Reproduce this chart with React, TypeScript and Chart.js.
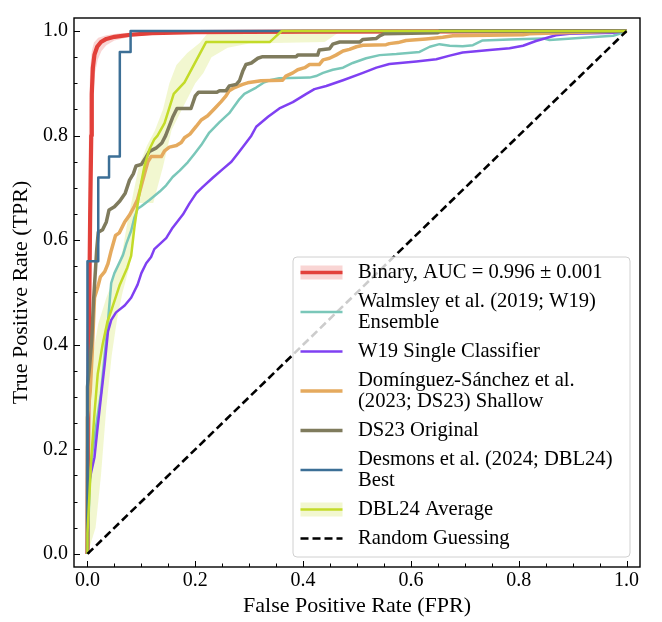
import React, { useEffect, useRef } from 'react';
import { Chart, registerables } from 'chart.js';

Chart.register(...registerables);

type Pt = [number, number];

// ---------- DATA (FPR, TPR) ----------
const binaryRoc: Pt[] = [
  [0, 0], [0.001, 0.2], [0.003, 0.45], [0.005, 0.65], [0.007, 0.8], [0.008, 0.88], [0.01, 0.93],
  [0.013, 0.955], [0.018, 0.97], [0.025, 0.979], [0.035, 0.985], [0.05, 0.989], [0.08, 0.993],
  [0.12, 0.996], [0.2, 0.998], [0.4, 0.999], [1, 1],
];
const binaryBandUpper: Pt[] = [
  [0, 0], [0, 0.3], [0.001, 0.6], [0.003, 0.85], [0.005, 0.93], [0.008, 0.962], [0.012, 0.978],
  [0.02, 0.987], [0.035, 0.992], [0.06, 0.996], [0.1, 0.998], [0.2, 1], [1, 1],
];
const binaryBandLower: Pt[] = [
  [0, 0], [0.002, 0.2], [0.005, 0.45], [0.007, 0.65], [0.009, 0.8], [0.011, 0.88], [0.014, 0.92],
  [0.019, 0.945], [0.026, 0.962], [0.035, 0.973], [0.05, 0.982], [0.08, 0.989], [0.12, 0.993],
  [0.2, 0.996], [0.4, 0.998], [1, 1],
];

const w19EnsembleRoc: Pt[] = [
  [0, 0], [0.004, 0.132], [0.009, 0.194], [0.016, 0.244], [0.025, 0.307], [0.032, 0.381],
  [0.038, 0.444], [0.044, 0.518], [0.05, 0.537], [0.056, 0.55], [0.066, 0.572], [0.072, 0.593],
  [0.081, 0.618], [0.087, 0.643], [0.093, 0.66], [0.1, 0.665], [0.115, 0.677], [0.134, 0.693],
  [0.146, 0.705], [0.158, 0.721], [0.171, 0.733], [0.186, 0.749], [0.199, 0.766], [0.211, 0.782],
  [0.226, 0.806], [0.245, 0.826], [0.263, 0.843], [0.282, 0.87], [0.291, 0.88], [0.313, 0.892],
  [0.328, 0.902], [0.338, 0.906], [0.356, 0.91], [0.412, 0.911], [0.424, 0.914], [0.437, 0.92],
  [0.455, 0.926], [0.474, 0.93], [0.492, 0.939], [0.517, 0.948], [0.542, 0.954], [0.573, 0.956],
  [0.616, 0.96], [0.635, 0.97], [0.653, 0.975], [0.672, 0.972], [0.696, 0.971], [0.715, 0.973],
  [0.733, 0.982], [0.783, 0.984], [0.845, 0.986], [0.857, 0.983], [0.919, 0.987], [0.975, 0.991],
  [0.987, 0.995], [1, 1],
];

const w19SingleRoc: Pt[] = [
  [0, 0], [0.002, 0.132], [0.007, 0.157], [0.013, 0.185], [0.019, 0.244], [0.025, 0.3],
  [0.032, 0.363], [0.038, 0.425], [0.044, 0.447], [0.053, 0.462], [0.069, 0.475], [0.081, 0.49],
  [0.093, 0.515], [0.1, 0.537], [0.109, 0.556], [0.118, 0.568], [0.124, 0.583], [0.146, 0.604],
  [0.158, 0.624], [0.177, 0.649], [0.189, 0.67], [0.202, 0.69], [0.214, 0.702], [0.233, 0.72],
  [0.251, 0.736], [0.267, 0.75], [0.279, 0.766], [0.291, 0.782], [0.304, 0.8], [0.313, 0.817],
  [0.335, 0.836], [0.356, 0.852], [0.381, 0.864], [0.406, 0.88], [0.421, 0.889], [0.443, 0.895],
  [0.474, 0.906], [0.511, 0.92], [0.536, 0.93], [0.56, 0.937], [0.61, 0.942], [0.647, 0.946],
  [0.672, 0.953], [0.696, 0.959], [0.746, 0.964], [0.783, 0.967], [0.808, 0.972], [0.832, 0.981],
  [0.869, 0.992], [0.894, 0.995], [0.975, 0.997], [1, 1],
];

const ds23ShallowRoc: Pt[] = [
  [0, 0], [0, 0.26], [0.005, 0.31], [0.009, 0.39], [0.013, 0.49], [0.019, 0.51], [0.024, 0.53],
  [0.032, 0.54], [0.038, 0.555], [0.044, 0.58], [0.052, 0.609], [0.059, 0.614], [0.069, 0.635],
  [0.078, 0.648], [0.087, 0.665], [0.093, 0.678], [0.1, 0.705], [0.106, 0.728], [0.112, 0.75],
  [0.118, 0.76], [0.137, 0.76], [0.143, 0.771], [0.152, 0.778], [0.165, 0.781], [0.174, 0.787],
  [0.18, 0.796], [0.19, 0.803], [0.202, 0.818], [0.211, 0.83], [0.223, 0.838], [0.236, 0.852],
  [0.248, 0.865], [0.257, 0.876], [0.263, 0.886], [0.273, 0.892], [0.288, 0.898], [0.297, 0.901],
  [0.322, 0.905], [0.362, 0.906], [0.368, 0.914], [0.381, 0.92], [0.39, 0.926], [0.403, 0.93],
  [0.412, 0.936], [0.43, 0.936], [0.437, 0.945], [0.449, 0.948], [0.461, 0.954], [0.474, 0.962],
  [0.486, 0.965], [0.499, 0.97], [0.511, 0.973], [0.554, 0.974], [0.56, 0.976], [0.576, 0.978],
  [0.591, 0.982], [0.628, 0.985], [0.659, 0.988], [0.678, 0.991], [0.808, 0.993], [0.82, 0.995],
  [0.882, 0.997], [1, 1],
];

const ds23OriginalRoc: Pt[] = [
  [0, 0], [0, 0.32], [0.004, 0.36], [0.008, 0.41], [0.011, 0.48], [0.014, 0.53], [0.017, 0.58],
  [0.02, 0.615], [0.028, 0.62], [0.035, 0.635], [0.04, 0.658], [0.05, 0.664], [0.06, 0.675],
  [0.07, 0.69], [0.078, 0.715], [0.085, 0.727], [0.09, 0.742], [0.1, 0.745], [0.108, 0.758],
  [0.115, 0.77], [0.127, 0.776], [0.138, 0.786], [0.145, 0.8], [0.158, 0.835], [0.166, 0.852],
  [0.192, 0.852], [0.2, 0.876], [0.206, 0.883], [0.24, 0.883], [0.245, 0.886], [0.257, 0.886],
  [0.263, 0.895], [0.276, 0.898], [0.282, 0.905], [0.288, 0.923], [0.294, 0.936], [0.304, 0.939],
  [0.316, 0.948], [0.325, 0.951], [0.387, 0.951], [0.39, 0.954], [0.427, 0.954], [0.43, 0.964],
  [0.449, 0.966], [0.455, 0.975], [0.468, 0.979], [0.505, 0.979], [0.511, 0.984], [0.536, 0.986],
  [0.542, 0.991], [0.551, 0.995], [0.65, 0.997], [0.653, 1], [1, 1],
];

const dbl24BestRoc: Pt[] = [
  [0, 0], [0, 0.56], [0.02, 0.56], [0.02, 0.72], [0.04, 0.72], [0.04, 0.76], [0.06, 0.76],
  [0.06, 0.96], [0.08, 0.96], [0.08, 1], [1, 1],
];

const dbl24AverageRoc: Pt[] = [
  [0, 0], [0, 0.04], [0.007, 0.182], [0.013, 0.269], [0.019, 0.344], [0.028, 0.4], [0.037, 0.444],
  [0.044, 0.465], [0.06, 0.515], [0.074, 0.548], [0.081, 0.57], [0.087, 0.624], [0.093, 0.668],
  [0.1, 0.712], [0.106, 0.743], [0.115, 0.774], [0.124, 0.793], [0.13, 0.8], [0.143, 0.824],
  [0.16, 0.88], [0.18, 0.902], [0.22, 0.979], [0.338, 0.979], [0.36, 1], [1, 1],
];
const dbl24BandUpper: Pt[] = [
  [0, 0], [0, 0.2], [0.004, 0.3], [0.01, 0.38], [0.02, 0.44], [0.035, 0.49], [0.05, 0.53],
  [0.065, 0.58], [0.075, 0.64], [0.085, 0.69], [0.095, 0.74], [0.11, 0.78], [0.125, 0.81],
  [0.14, 0.85], [0.152, 0.9], [0.165, 0.935], [0.185, 0.958], [0.208, 0.977], [0.222, 0.995],
  [0.25, 1], [1, 1],
];
const dbl24BandLower: Pt[] = [
  [0, 0], [0.015, 0.05], [0.025, 0.15], [0.035, 0.28], [0.045, 0.38], [0.055, 0.45], [0.065, 0.5],
  [0.078, 0.55], [0.088, 0.62], [0.093, 0.671], [0.122, 0.671], [0.14, 0.74], [0.156, 0.811],
  [0.18, 0.86], [0.2, 0.9], [0.215, 0.92], [0.23, 0.95], [0.26, 0.968], [0.3, 0.976],
  [0.44, 0.979], [0.47, 1], [1, 1],
];

const randomRoc: Pt[] = [[0, 0], [1, 1]];

const seriesLabels: string[][] = [
  ['Binary, AUC = 0.996 ± 0.001'],
  ['Walmsley et al. (2019; W19)', 'Ensemble'],
  ['W19 Single Classifier'],
  ['Domínguez-Sánchez et al.', '(2023; DS23) Shallow'],
  ['DS23 Original'],
  ['Desmons et al. (2024; DBL24)', 'Best'],
  ['DBL24 Average'],
  ['Random Guessing'],
];

const majorTicks = [0, 0.2, 0.4, 0.6, 0.8, 1.0];
const xTitle = 'False Positive Rate (FPR)';
const yTitle = 'True Positive Rate (TPR)';

// ---------- STYLES ----------
const FONT = "'Liberation Serif', 'Times New Roman', serif";
const seriesStyles = [
  { color: '#e2403a', width: 4.2, band: 'rgba(226,64,58,0.22)' },
  { color: '#7ac7b9', width: 2.5 },
  { color: '#7f40f2', width: 2.5 },
  { color: '#e5aa5e', width: 3.5 },
  { color: '#7f7b5d', width: 3.5 },
  { color: '#3c6f96', width: 2.5 },
  { color: '#c3db28', width: 2.5, band: 'rgba(195,219,40,0.22)' },
  { color: '#000000', width: 2.6, dash: [8, 4] },
];

const toXY = (pts: Pt[]) => pts.map(([x, y]) => ({ x, y }));
const polygon = (upper: Pt[], lower: Pt[]) => toXY([...upper, ...lower.slice().reverse()]);

const lineDs = (pts: Pt[], idx: number) => {
  const s: any = seriesStyles[idx];
  return {
    data: toXY(pts),
    borderColor: s.color,
    backgroundColor: s.color,
    borderWidth: s.width,
    borderDash: s.dash || [],
    borderCapStyle: 'butt',
    borderJoinStyle: 'round',
    pointRadius: 0,
    fill: false,
    tension: 0,
  };
};
const bandDs = (upper: Pt[], lower: Pt[], idx: number) => ({
  data: polygon(upper, lower),
  borderColor: 'transparent',
  backgroundColor: (seriesStyles[idx] as any).band,
  borderWidth: 0,
  pointRadius: 0,
  fill: 'shape',
  tension: 0,
});

const framePlugin = {
  id: 'frameTicks',
  afterDatasetsDraw(chart: any) {
    const { ctx, chartArea: a, scales } = chart;
    const x = scales.x;
    const y = scales.y;
    ctx.save();
    ctx.strokeStyle = '#000';
    ctx.lineWidth = 1;
    for (let i = 0; i <= 20; i++) {
      const v = i * 0.05;
      const major = i % 4 === 0;
      const len = major ? 6 : 3.5;
      const px = Math.round(x.getPixelForValue(v)) + 0.5;
      ctx.beginPath();
      ctx.moveTo(px, a.bottom);
      ctx.lineTo(px, a.bottom - len);
      ctx.stroke();
      const py = Math.round(y.getPixelForValue(v)) + 0.5;
      ctx.beginPath();
      ctx.moveTo(a.left, py);
      ctx.lineTo(a.left + len, py);
      ctx.stroke();
    }
    ctx.lineWidth = 1.4;
    ctx.strokeRect(a.left, a.top, a.right - a.left, a.bottom - a.top);
    ctx.restore();
  },
};

const legendPlugin = {
  id: 'rocLegend',
  afterDraw(chart: any) {
    const { ctx, chartArea: a } = chart;
    const w = 337;
    const h = 300;
    const right = a.right - 10;
    const bottom = a.bottom - 10;
    const left = right - w;
    const top = bottom - h;
    ctx.save();
    const r = 4;
    ctx.beginPath();
    ctx.moveTo(left + r, top);
    ctx.arcTo(right, top, right, bottom, r);
    ctx.arcTo(right, bottom, left, bottom, r);
    ctx.arcTo(left, bottom, left, top, r);
    ctx.arcTo(left, top, right, top, r);
    ctx.closePath();
    ctx.fillStyle = 'rgba(255,255,255,0.8)';
    ctx.fill();
    ctx.strokeStyle = '#d0d0d0';
    ctx.lineWidth = 1;
    ctx.stroke();

    ctx.font = `20.6px ${FONT}`;
    ctx.textBaseline = 'middle';
    ctx.textAlign = 'left';
    const lh = 21;
    let yy = top + 15.5;
    seriesLabels.forEach((lines, i) => {
      const s: any = seriesStyles[i];
      const cy = yy + ((lines.length - 1) * lh) / 2;
      const hx0 = left + 7.5;
      const hx1 = left + 49.5;
      if (s.band) {
        ctx.fillStyle = s.band;
        ctx.fillRect(hx0, cy - 7, hx1 - hx0, 14);
      }
      ctx.strokeStyle = s.color;
      ctx.lineWidth = Math.min(s.width, 3.3);
      ctx.setLineDash(s.dash || []);
      ctx.lineCap = 'butt';
      ctx.beginPath();
      ctx.moveTo(hx0, cy);
      ctx.lineTo(hx1, cy);
      ctx.stroke();
      ctx.setLineDash([]);
      ctx.fillStyle = '#000';
      lines.forEach((t, k) => ctx.fillText(t, left + 65, yy + k * lh));
      yy += (lines.length - 1) * lh + 29;
    });
    ctx.restore();
  },
};

export default function App() {
  const ref = useRef<HTMLCanvasElement | null>(null);
  useEffect(() => {
    if (!ref.current) return;
    // draw order: first = bottom
    const ordered: any[] = [
      bandDs(binaryBandUpper, binaryBandLower, 0),
      bandDs(dbl24BandUpper, dbl24BandLower, 6),
      lineDs(binaryRoc, 0),
      lineDs(w19EnsembleRoc, 1),
      lineDs(w19SingleRoc, 2),
      lineDs(ds23ShallowRoc, 3),
      lineDs(ds23OriginalRoc, 4),
      lineDs(dbl24BestRoc, 5),
      lineDs(dbl24AverageRoc, 6),
      lineDs(randomRoc, 7),
    ];
    const n = ordered.length;
    ordered.forEach((d, i) => (d.order = n - i));

    const tickFont = { family: FONT, size: 20 };
    const titleFont = { family: FONT, size: 22 };
    const chart = new Chart(ref.current, {
      type: 'line',
      data: { datasets: ordered },
      options: {
        animation: false,
        responsive: false,
        devicePixelRatio: 1,
        events: [],
        layout: { padding: { top: 5, right: 22, bottom: 0, left: 0 } },
        plugins: { legend: { display: false }, tooltip: { enabled: false } },
        scales: {
          x: {
            type: 'linear',
            min: -0.025,
            max: 1.025,
            grid: { display: false, drawTicks: false },
            border: { display: false },
            afterBuildTicks: (s: any) => { s.ticks = majorTicks.map((v) => ({ value: v })); },
            afterFit: (s: any) => { s.height = 55; },
            ticks: {
              color: '#000',
              font: tickFont,
              padding: 2,
              maxRotation: 0,
              autoSkip: false,
              callback: (v: any) => Number(v).toFixed(1),
            },
            title: { display: true, text: xTitle, color: '#000', font: titleFont, padding: { top: 0, bottom: 3 } },
          },
          y: {
            type: 'linear',
            min: -0.025,
            max: 1.025,
            grid: { display: false, drawTicks: false },
            border: { display: false },
            afterBuildTicks: (s: any) => { s.ticks = majorTicks.map((v) => ({ value: v })); },
            afterFit: (s: any) => { s.width = 74; },
            ticks: {
              color: '#000',
              font: tickFont,
              padding: 6,
              autoSkip: false,
              callback: (v: any) => Number(v).toFixed(1),
            },
            title: { display: true, text: yTitle, color: '#000', font: titleFont, padding: { top: 8, bottom: 0 } },
          },
        },
      } as any,
      plugins: [framePlugin, legendPlugin],
    });
    return () => chart.destroy();
  }, []);

  return (
    <div style={{ position: 'absolute', left: 0, top: 0, width: 662, height: 622, background: '#fff' }}>
      <canvas ref={ref} width={662} height={622} style={{ display: 'block' }} />
    </div>
  );
}
